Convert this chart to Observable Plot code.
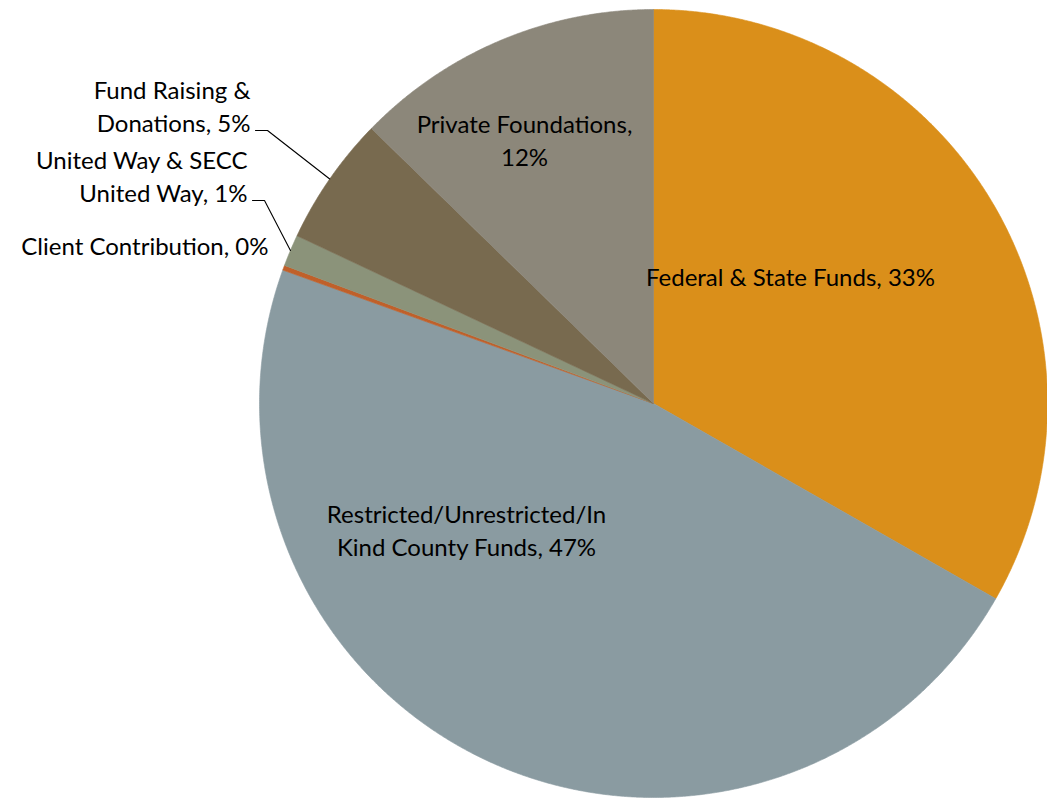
<!DOCTYPE html>
<html><head><meta charset="utf-8">
<script src="https://cdn.jsdelivr.net/npm/d3@7"></script>
<script src="https://cdn.jsdelivr.net/npm/@observablehq/plot@0.6"></script>
<style>html,body{margin:0;padding:0;background:#fff;overflow:hidden;}</style>
</head><body><div id="chart"></div>
<script>
// ---- data ----
const categories = ["Federal & State Funds", "Restricted/Unrestricted/In Kind County Funds", "Client Contribution", "United Way & SECC United Way", "Fund Raising & Donations", "Private Foundations"];
const shares = [33.25, 47.25, 0.2, 1.3, 5.3, 12.7];
const labelTexts = ["Federal & State Funds, 33%", "Restricted/Unrestricted/In\nKind County Funds, 47%", "Client Contribution, 0%", "United Way & SECC\nUnited Way, 1%", "Fund Raising &\nDonations, 5%", "Private Foundations,\n12%"];
const sliceColors = ["#DA8F1A", "#8A9BA1", "#C0602A", "#8B937A", "#786A4F", "#8C877A"];

// ---- layout (pixels) ----
const W = 1047, H = 800, CX = 653, CY = 403, R = 394;
const labelPos = [ // pixel anchor of each label block
  {x: 790, y: 275, anchor: "middle", leader: false},
  {x: 466, y: 528, anchor: "middle", leader: false},
  {x: 268, y: 244, anchor: "end", leader: false},
  {x: 247, y: 174, anchor: "end", leader: true, ly: 200},
  {x: 250, y: 104, anchor: "end", leader: true, ly: 130},
  {x: 524, y: 138, anchor: "middle", leader: false}
];
const ux = px => (px - CX) / R;
const uy = py => (CY - py) / R;

// slices
const total = d3.sum(shares);
let cum = 0;
const slices = categories.map((c, i) => {
  const a0 = cum / total * 2 * Math.PI;
  cum += shares[i];
  const a1 = cum / total * 2 * Math.PI;
  const n = Math.max(2, Math.ceil((a1 - a0) / (Math.PI / 720)));
  const pts = [{x: 0, y: 0}];
  for (let k = 0; k <= n; k++) {
    const a = a0 + (a1 - a0) * k / n;
    pts.push({x: Math.sin(a), y: Math.cos(a)});
  }
  pts.push({x: 0, y: 0});
  return {name: c, color: sliceColors[i], pts, mid: (a0 + a1) / 2};
});

const labels = labelTexts.map((t, i) => ({text: t, x: ux(labelPos[i].x), y: uy(labelPos[i].y), anchor: labelPos[i].anchor}));

const leaders = [];
labelPos.forEach((p, i) => {
  if (!p.leader) return;
  const m = slices[i].mid;
  leaders.push([
    {x: ux(p.x + 5), y: uy(p.ly)},
    {x: ux(p.x + 17), y: uy(p.ly)},
    {x: Math.sin(m), y: Math.cos(m)}
  ]);
});

const marks = [];
slices.forEach(s => {
  marks.push(Plot.line(s.pts, {x: "x", y: "y", fill: s.color, stroke: s.color, strokeWidth: 0.6, curve: "linear"}));
});
leaders.forEach(l => marks.push(Plot.line(l, {x: "x", y: "y", stroke: "#000", strokeWidth: 1.1})));
["middle", "end"].forEach(a => {
  marks.push(Plot.text(labels.filter(d => d.anchor === a), {
    x: "x", y: "y", text: "text", textAnchor: a, lineAnchor: "middle",
    fontSize: 24, lineHeight: 1.38, fill: "#000"
  }));
});

const chart = Plot.plot({
  width: W, height: H,
  marginTop: 0, marginRight: 0, marginBottom: 0, marginLeft: 0,
  style: {fontFamily: "Lato, 'Noto Sans', sans-serif", background: "#fff"},
  x: {domain: [ux(0), ux(W)], axis: null},
  y: {domain: [uy(H), uy(0)], axis: null},
  marks
});
document.getElementById("chart").appendChild(chart);
</script>
</body></html>
